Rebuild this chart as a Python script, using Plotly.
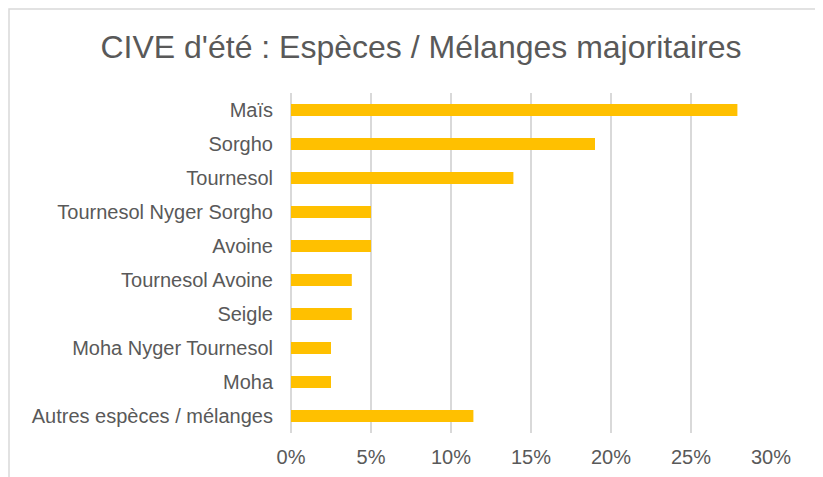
import plotly.graph_objects as go

# données (en %)
especes = [
    "Maïs",
    "Sorgho",
    "Tournesol",
    "Tournesol Nyger Sorgho",
    "Avoine",
    "Tournesol Avoine",
    "Seigle",
    "Moha Nyger Tournesol",
    "Moha",
    "Autres espèces / mélanges",
]
parts = [27.9, 19.0, 13.9, 5.0, 5.0, 3.8, 3.8, 2.5, 2.5, 11.4]
x_ticks = [0, 5, 10, 15, 20, 25, 30]
x_labels = [f"{v}%" for v in x_ticks]

gris_texte = "#595959"
gris_grille = "#D9D9D9"

fig = go.Figure(
    go.Bar(
        x=parts,
        y=especes,
        orientation="h",
        marker=dict(color="#FFC000", line=dict(width=0)),
    )
)

# la page a une marge de 8px : la figure fait 815x469
fig.update_layout(
    width=815,
    height=469,
    margin=dict(l=283, r=52, t=85, b=44, autoexpand=False),
    paper_bgcolor="white",
    plot_bgcolor="white",
    font=dict(family="Liberation Sans, Arial, sans-serif", color=gris_texte, size=20),
    title=dict(
        text="CIVE d'été : Espèces / Mélanges majoritaires",
        x=413 / 815,
        xanchor="center",
        xref="container",
        y=1 - 39 / 469,
        yanchor="middle",
        yref="container",
        font=dict(size=32, color=gris_texte),
    ),
    bargap=0.647,
    showlegend=False,
    shapes=[
        dict(
            type="rect",
            xref="paper",
            yref="paper",
            x0=(1 - 283) / 480,
            x1=1.5,
            y0=-0.5,
            y1=1 + (85 - 1) / 340,
            line=dict(color=gris_grille, width=1.5),
            layer="below",
        )
    ],
)

fig.update_xaxes(
    range=[0, 30],
    tickvals=x_ticks,
    ticktext=x_labels,
    showgrid=True,
    gridcolor=gris_grille,
    gridwidth=1.5,
    zeroline=True,
    zerolinecolor=gris_grille,
    zerolinewidth=1.5,
    showline=False,
    ticks="",
    ticklabelstandoff=10,
    automargin=False,
    tickfont=dict(size=20, color=gris_texte),
)
fig.update_yaxes(
    autorange="reversed",
    showgrid=False,
    showline=False,
    ticks="",
    ticklabelstandoff=17,
    automargin=False,
    tickfont=dict(size=20, color=gris_texte),
)

fig.write_html("out.html")
